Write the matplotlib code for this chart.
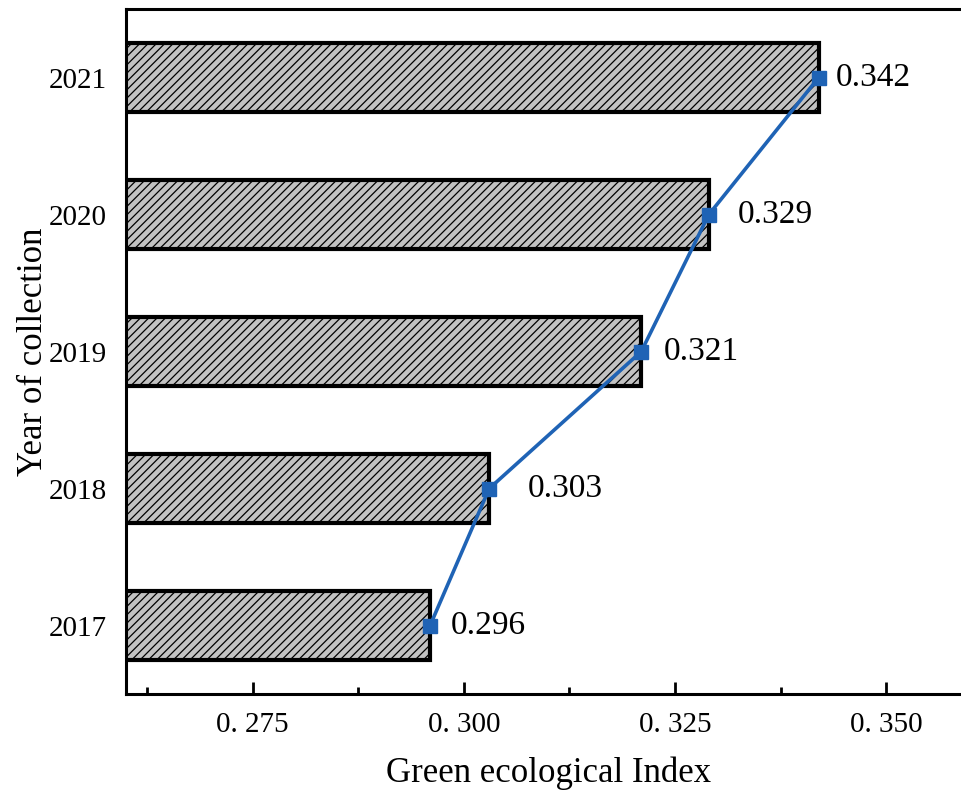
import numpy as np
import matplotlib.pyplot as plt
from matplotlib.ticker import FixedLocator

years = ['2017', '2018', '2019', '2020', '2021']
gei = [0.296, 0.303, 0.321, 0.329, 0.342]
value_labels = ['0.296', '0.303', '0.321', '0.329', '0.342']
xtick_vals = [0.275, 0.300, 0.325, 0.350]
xtick_labels = ['0. 275', '0. 300', '0. 325', '0. 350']
xminor_vals = [0.2625, 0.2875, 0.3125, 0.3375]

# horizontal gap (points) between marker and its value label
label_dx = [15, 28, 16, 21, 12]

plt.rcParams['font.family'] = ['Liberation Serif', 'DejaVu Serif']
plt.rcParams['hatch.linewidth'] = 0.9

fig = plt.figure(figsize=(9.62, 7.90), dpi=100)
ax = fig.add_axes([0.131, 0.1215, 0.878, 0.867])

y = np.arange(len(years))
ax.barh(y, gei, height=0.5, color='#c2c2c2', edgecolor='black',
        linewidth=3, hatch='////', zorder=2)
ax.plot(gei, y, color='#1f63b5', linewidth=2.6, marker='s',
        markersize=10, zorder=4, clip_on=False)

for xv, yv, txt, dx in zip(gei, y, value_labels, label_dx):
    ax.annotate(txt, (xv, yv), xytext=(dx, 0), textcoords='offset points',
                ha='left', va='center', fontsize=24, zorder=5)

ax.set_xlim(0.26, 0.36)
ax.set_ylim(-0.5, 4.5)
ax.xaxis.set_major_locator(FixedLocator(xtick_vals))
ax.set_xticklabels(xtick_labels)
ax.xaxis.set_minor_locator(FixedLocator(xminor_vals))
ax.set_yticks(y)
ax.set_yticklabels(years)

ax.tick_params(axis='x', which='major', direction='in', length=9, width=2,
               labelsize=21, pad=13)
ax.tick_params(axis='x', which='minor', direction='in', length=5, width=2)
ax.tick_params(axis='y', which='major', direction='in', length=8, width=2,
               labelsize=21, pad=14)

for side in ['left', 'bottom', 'top']:
    ax.spines[side].set_linewidth(2.2)
ax.spines['right'].set_visible(False)

ax.set_xlabel('Green ecological Index', fontsize=25, labelpad=13)
ax.set_ylabel('Year of collection', fontsize=25, labelpad=-1)

fig.savefig('out.png', dpi=100)
